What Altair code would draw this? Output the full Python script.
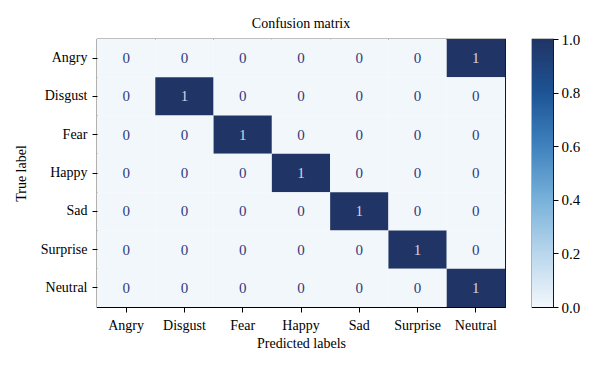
import altair as alt
import pandas as pd

labels = ["Angry", "Disgust", "Fear", "Happy", "Sad", "Surprise", "Neutral"]
# rows = true label, columns = predicted label
matrix = [
    [0, 0, 0, 0, 0, 0, 1],
    [0, 1, 0, 0, 0, 0, 0],
    [0, 0, 1, 0, 0, 0, 0],
    [0, 0, 0, 1, 0, 0, 0],
    [0, 0, 0, 0, 1, 0, 0],
    [0, 0, 0, 0, 0, 1, 0],
    [0, 0, 0, 0, 0, 0, 1],
]
color_stops = [0.0, 0.2, 0.4, 0.6, 0.8, 1.0]
color_range = ["#f2f7fc", "#b9d6ec", "#78b1da", "#3f82be", "#1d5495", "#203465"]

rows = []
for i, t in enumerate(labels):
    for j, p in enumerate(labels):
        rows.append({"true": t, "pred": p, "value": matrix[i][j]})
df = pd.DataFrame(rows)

FONT = "Liberation Serif"

base = alt.Chart(df).encode(
    x=alt.X("pred:N", sort=labels, title="Predicted labels",
            axis=alt.Axis(labelAngle=0, domain=False, ticks=True, tickSize=5,
                          tickColor="black", labelPadding=6, titlePadding=4)),
    y=alt.Y("true:N", sort=labels, title="True label",
            axis=alt.Axis(domain=False, ticks=True, tickSize=5, tickColor="black",
                          labelPadding=5, titlePadding=12)),
)

heat = base.mark_rect().encode(
    color=alt.Color("value:Q",
                    scale=alt.Scale(domain=color_stops, range=color_range),
                    legend=None)
)

text_low = base.mark_text(font=FONT, fontSize=15, color="#2e3a7e").encode(
    text="value:Q"
).transform_filter(alt.datum.value < 0.5)

text_high = base.mark_text(font=FONT, fontSize=15, color="#d4d4e0").encode(
    text="value:Q"
).transform_filter(alt.datum.value >= 0.5)

matrix_chart = (heat + text_low + text_high).properties(
    width=408, height=268,
    title=alt.TitleParams("Confusion matrix", font=FONT, fontSize=14, fontWeight="normal",
                          color="black", offset=8),
)

# colour bar: one rect spanning the colour scale's domain, filled with the same gradient
cb_df = pd.DataFrame({"lo": [color_stops[0]], "hi": [color_stops[-1]]})
gradient = {
    "gradient": "linear", "x1": 0, "y1": 1, "x2": 0, "y2": 0,
    "stops": [{"offset": s, "color": c} for s, c in zip(color_stops, color_range)],
}
colorbar = alt.Chart(cb_df).mark_rect(fill=gradient).encode(
    y=alt.Y("lo:Q", scale=alt.Scale(domain=[0, 1], nice=False),
            axis=alt.Axis(orient="right", values=color_stops, format=".1f", title=None,
                          domain=False, ticks=True, tickSize=5, tickColor="black",
                          labelPadding=3, grid=False, labelFont=FONT, labelFontSize=15)),
    y2="hi:Q",
    x=alt.value(0), x2=alt.value(21),
).properties(width=21, height=268)

chart = alt.hconcat(matrix_chart, colorbar, spacing=27, bounds="flush").properties(
    padding={"left": 5, "top": 8, "right": 5, "bottom": 5},
).configure_view(
    stroke="black", strokeWidth=1.2
).configure_axis(
    labelFont=FONT, titleFont=FONT, labelFontSize=14, titleFontSize=14,
    labelColor="black", titleColor="black", titleFontWeight="normal", grid=False
)

chart.save("out.html", embed_options={"renderer": "svg", "actions": False})
